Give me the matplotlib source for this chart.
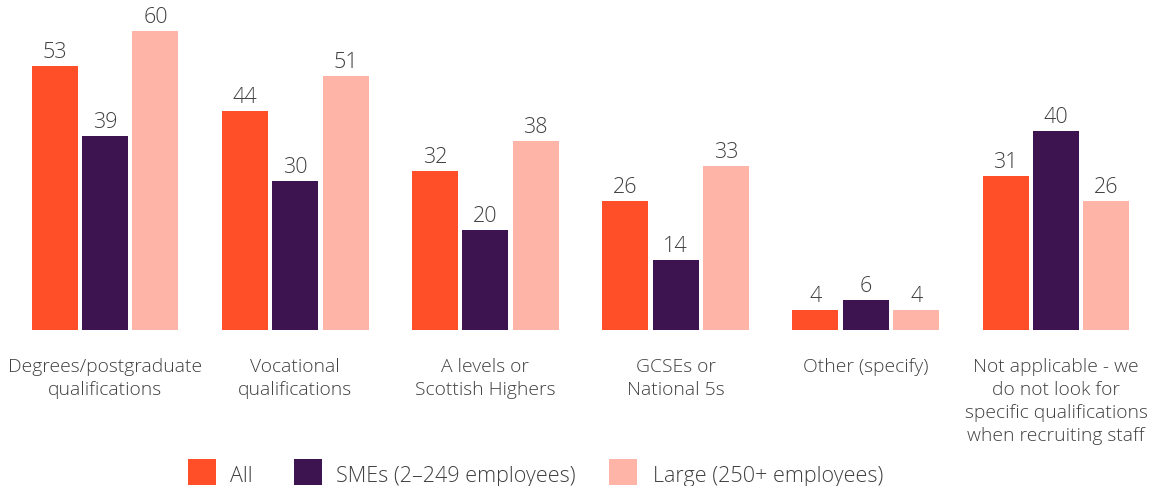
import matplotlib
matplotlib.use("Agg")
import matplotlib.pyplot as plt
from matplotlib.patches import Rectangle
import numpy as np

categories = [
    "Degrees/postgraduate\nqualifications",
    "Vocational\nqualifications",
    "A levels or\nScottish Highers",
    "GCSEs or\nNational 5s",
    "Other (specify)",
    "Not applicable - we\ndo not look for\nspecific qualifications\nwhen recruiting staff",
]
series_names = ["All", "SMEs (2\u2013249 employees)", "Large (250+ employees)"]
all_vals = [53, 44, 32, 26, 4, 31]
sme_vals = [39, 30, 20, 14, 6, 40]
large_vals = [60, 51, 38, 33, 4, 26]
colors = ["#FF4F28", "#3D1450", "#FFB4A8"]
text_color = "#404040"

plt.rcParams["font.family"] = ["Open Sans", "DejaVu Sans"]
plt.rcParams["font.weight"] = "light"

W, H = 1153, 486
fig = plt.figure(figsize=(W / 100, H / 100), dpi=100)
ax = fig.add_axes([0, 0.321, 1, 0.679])

x = np.arange(len(categories))
width = 0.242
offset = 0.265
for i, (vals, col) in enumerate(zip([all_vals, sme_vals, large_vals], colors)):
    pos = x + (i - 1) * offset
    bars = ax.bar(pos, vals, width=width, color=col)
    for b, v in zip(bars, vals):
        ax.text(b.get_x() + b.get_width() / 2, v + 0.6, str(v), ha="center",
                va="bottom", fontsize=15.5, color=text_color)

ax.set_xlim(-0.552, 5.51)
ax.set_ylim(0, 66.3)
ax.set_xticks(x)
ax.set_xticklabels(categories, fontsize=13.9, color=text_color, linespacing=1.34,
                   va="top")
ax.tick_params(axis="x", length=0, pad=20.5)
ax.set_yticks([])
for s in ax.spines.values():
    s.set_visible(False)

# legend drawn in figure pixel coordinates
legend_items = [(188, 230), (294, 336), (609, 653)]
for (sx, tx), name, col in zip(legend_items, series_names, colors):
    fig.patches.append(Rectangle((sx / W, 1 / H), 28 / W, 26 / H, transform=fig.transFigure,
                                 facecolor=col, edgecolor="none"))
    fig.text(tx / W, 4.5 / H, name, ha="left", va="baseline", fontsize=15.5,
             color=text_color)

fig.savefig("out.png", dpi=100)
